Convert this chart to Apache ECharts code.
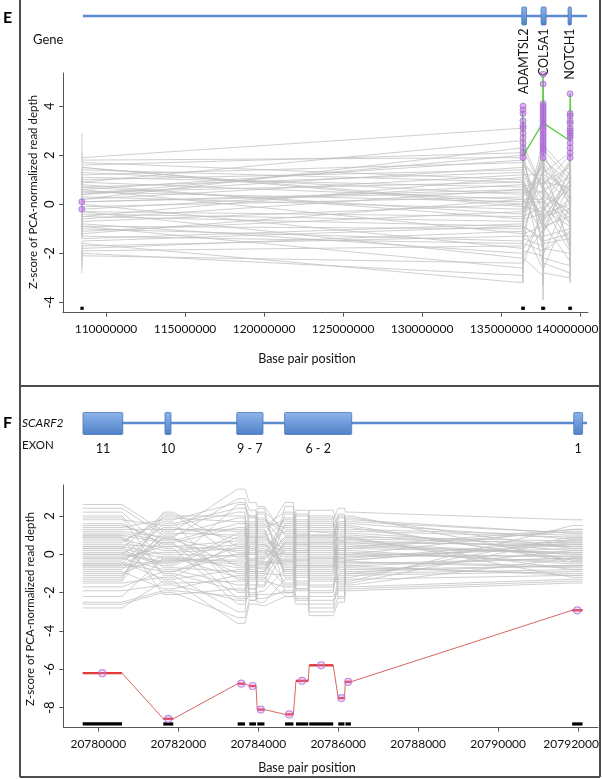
<!DOCTYPE html>
<html><head><meta charset="utf-8">
<script src="https://cdn.jsdelivr.net/npm/echarts@6/dist/echarts.min.js"></script>
<style>html,body{margin:0;padding:0;background:#fff}#c{width:602px;height:779px}</style>
</head><body><div id="c"></div>
<script>
// ---------------- Panel E data ----------------
const eProbePos = [108470000, 108500000, 136360000, 136390000, 136420000, 137620000, 137660000, 137700000, 139340000, 139370000, 139400000];
const eXTicks = [110000000, 115000000, 120000000, 125000000, 130000000, 135000000, 140000000];
const eYTicks = [-4, -2, 0, 2, 4];
const eGeneNames = ['ADAMTSL2', 'COL5A1', 'NOTCH1'];
const eGeneStart = [136310000, 137530000, 139240000];
const eGeneEnd = [136610000, 137850000, 139450000];
const eTrackRange = [108540000, 140440000];
// z-scores per sample at each probe (L1,L2,A1,A2,A3,C1,C2,C3,N1,N2,N3)
const eSamples = [
  [0.2, 0.1, 0.5, -0.3, 0.8, -0.5, 1.2, 0.3, -0.2, 0.6, 0.1],
  [1.8, 1.6, 2.1, 1.2, 0.4, 1.5, -0.8, 0.9, 0.7, -0.4, 1.1],
  [-1.9, -2.1, -2.4, -1.1, -1.8, -0.6, -2.7, -1.5, -1.2, -2.1, -0.9],
  [0.9, 0.8, -0.6, 0.9, 1.3, 0.2, 0.7, -1.1, 1.4, 0.3, -0.5],
  [-0.7, -0.5, 1.1, -1.8, -0.4, 1.9, -0.2, 1.6, -1.8, 1.2, 0.6],
  [2.9, 1.9, 3.1, 2.4, 1.7, 0.8, 2.6, 2.2, 1.0, 2.7, 1.8],
  [-2.8, -1.6, -3.2, -2.6, -2.2, -2.9, -3.9, -2.4, -2.8, -3.2, -2.3],
  [0.4, 0.5, 0.1, 1.6, -0.9, -1.4, 0.3, -0.6, 0.2, -1.1, 0.9],
  [-1.2, -1.0, -1.5, 0.4, -0.2, 0.6, -1.6, 0.1, -0.7, 0.5, -1.4],
  [1.3, 1.2, 1.7, -0.5, 2.0, -1.8, 1.9, -0.3, 1.7, -0.9, 0.4],
  [-0.3, -0.2, 0.8, -2.2, 0.3, 1.1, -1.0, 0.7, -1.5, 1.8, -0.2],
  [0.7, 0.6, -1.2, 0.2, -1.5, 2.3, 0.9, 1.8, 0.9, -2.2, 1.5],
  [-1.6, -1.5, -0.9, -1.4, 0.9, -2.4, -0.4, -2.0, 0.4, -1.6, -1.8],
  [1.0, 0.9, 2.6, 3.4, 1.1, 0.4, 3.8, 1.3, 2.1, 3.1, 0.7],
  [-0.9, -0.8, -2.0, -0.2, -2.1, -1.1, -2.2, -0.8, -2.3, 0.0, -1.2],
  [0.0, -0.1, 0.3, 0.7, 0.6, 0.0, 0.1, 0.5, -0.4, 0.8, 0.2],
  [1.5, 1.4, 0.9, -1.0, 1.6, -0.3, 1.5, 2.4, 1.2, -0.6, 1.3],
  [-2.3, -2.0, -2.9, -3.2, -1.0, -2.6, -3.3, -2.8, -3.0, -2.6, -1.9],
  [0.5, 0.3, -0.2, 1.0, 0.0, 1.6, -0.6, -0.1, 0.6, 1.5, -0.8],
  [-0.5, -0.4, -0.7, -0.8, -1.2, -0.9, 0.5, -1.3, -1.0, -0.3, 0.5],
  [1.1, 1.0, 1.4, 2.2, -0.3, 2.0, 2.9, 0.0, 1.8, 2.3, -0.1],
  [-1.4, -1.2, 0.2, -2.0, -2.4, -0.2, -1.3, -2.6, -0.1, -1.8, -2.0],
  [0.3, 0.2, 2.3, 0.5, 1.9, -1.6, 1.1, 1.0, -0.8, 0.9, 1.6],
  [-0.1, 0.0, -1.8, -0.6, 0.4, 0.9, -1.9, -0.4, 0.0, -0.8, -0.4],
  [2.1, 1.7, 1.0, 1.8, -0.6, 1.3, 0.0, 1.9, 0.5, 1.9, 1.0],
  [-2.6, -1.8, -1.1, -2.8, -1.6, -1.9, -2.5, -1.8, -2.0, -2.9, -1.5],
  [0.8, 0.7, -0.4, 0.0, 1.0, -0.7, 0.4, 0.9, 1.5, 0.1, 0.3],
  [-0.4, -0.6, 0.6, -1.2, -0.8, 0.3, -0.9, -0.9, -0.5, -1.3, -0.7],
  [1.6, 1.5, -0.1, 1.3, 2.4, 0.7, 2.2, 1.5, 0.3, 1.0, 1.9],
  [-1.0, -0.9, -2.6, -1.6, -0.6, -0.4, -1.5, 0.2, -1.6, -0.7, 0.0],
  [0.1, 0.4, 1.5, 0.1, -1.1, 1.4, -0.1, -0.5, 0.8, 0.4, -1.0],
  [-0.6, -0.7, 0.0, -0.5, 0.2, -1.2, 0.8, -1.0, -0.3, -0.1, 0.8],
  [0.6, 0.5, 0.9, -0.1, 0.5, 0.5, -0.5, 1.1, 0.1, 0.2, -0.3],
  [-0.8, -1.1, -0.3, 0.6, -1.4, -1.7, 1.0, -0.2, -0.9, 1.1, 0.7],
  [1.2, 1.3, 0.4, 1.9, 0.7, 1.0, -1.2, 0.6, 1.1, -0.2, 0.9],
  [-1.8, -1.7, -1.3, -0.7, 0.1, 0.1, -2.0, -1.1, 0.7, -1.4, -1.1],
  [0.2, -0.3, -0.5, -1.5, 1.4, -1.0, 1.6, 0.4, -0.6, 0.7, 1.2],
  [1.9, 1.8, 1.9, 0.8, -0.2, 1.7, 0.2, -0.7, 1.3, 1.4, -0.6],
  [-0.2, 0.2, 1.2, 0.3, -0.5, -0.1, 0.6, 2.0, 0.0, -0.5, 0.3],
  [-1.1, -1.3, -1.6, -2.4, -1.9, -2.1, -1.1, -1.6, -1.4, -2.4, -1.6],
  [0.9, 1.1, 0.7, 0.6, 2.2, 0.6, 1.4, 0.8, 2.0, 0.6, 1.4],
  [-0.4, -0.9, -1.0, 1.2, 0.7, -0.8, -0.3, -1.9, -1.1, 0.9, -0.5],
  [0.0, 0.6, 1.8, -0.9, 1.2, 1.2, 2.0, 1.2, 0.6, -1.0, 0.6],
  [-1.3, -0.3, -2.2, -1.3, -1.3, -1.3, -2.9, -0.1, -1.9, -1.5, -1.3],
  [0.4, 0.9, 0.2, 2.0, -0.7, 2.5, 0.0, 0.5, 1.6, 1.7, 0.0],
  [-0.6, -1.4, -0.8, -0.4, 0.9, -0.6, 0.9, -0.5, -0.2, -0.9, 1.1],
  [1.4, 0.7, 1.3, 0.4, 0.2, 0.2, -0.4, 1.4, 0.4, 0.0, -0.4],
  [-2.0, -1.9, -1.7, -1.9, -0.9, -1.5, -1.7, -2.2, -2.5, -1.9, -2.4],
  [0.7, 1.5, 0.0, -0.7, 1.6, 0.8, 1.8, -0.2, 0.9, 2.1, 0.2],
  [-0.9, 0.1, 0.6, 0.8, -0.1, -0.3, -0.7, 0.6, -0.4, 0.3, -0.9],
  [0.3, -0.5, -0.9, -0.3, -0.4, 1.8, 0.4, -0.9, 1.0, -0.3, 0.4],
  [1.0, 0.4, 2.0, 1.5, 0.9, -0.9, 2.4, 1.7, 0.2, 1.3, 1.7]
];
const eGreen = [null, null, 3.8, 3.0, 2.0, 3.3, 5.3, 3.3, 2.6, 4.5, 3.6];
const ePurpleL = [0.1, -0.2];
const ePurpleA = [4.0, 3.85, 3.7, 3.4, 3.2, 3.1, 2.9, 2.7, 2.5, 2.3, 2.1, 1.9];
const ePurpleC = [5.3, 4.9, 4.1, 4.0, 3.9, 3.8, 3.7, 3.6, 3.5, 3.4, 3.3, 3.2, 3.1, 3.0, 2.9, 2.8, 2.7, 2.6, 2.5, 2.4, 2.3, 2.2, 2.1, 1.9];
const ePurpleN = [4.5, 3.7, 3.6, 3.4, 3.3, 3.1, 3.0, 2.9, 2.8, 2.7, 2.5, 2.3, 2.1, 1.9];
const eDotY = -4.24;

// ---------------- Panel F data ----------------
const fXTicks = [20780000, 20782000, 20784000, 20786000, 20788000, 20790000, 20792000];
const fYTicks = [-8, -6, -4, -2, 0, 2];
const fExonLabels = ['11', '10', '9 - 7', '6 - 2', '1'];
const fExonStart = [20779617, 20781667, 20783460, 20784657, 20791885];
const fExonEnd = [20780612, 20781817, 20784117, 20786335, 20792107];
const fTrackRange = [20779617, 20792218];
const fProbeStart = [20779610, 20781625, 20783485, 20783775, 20783975, 20784668, 20784943, 20785275, 20786000, 20786180, 20791850];
const fProbeEnd = [20780593, 20781875, 20783668, 20783943, 20784155, 20784880, 20785250, 20785875, 20786155, 20786318, 20792110];
const fRed = [-6.2, -8.58, -6.75, -6.87, -8.1, -8.35, -6.6, -5.79, -7.5, -6.65, -2.92];
const fSamples = [
  [0.2, -0.5, 1.1, 0.8, 0.3, -0.4, 0.6, 0.1, -0.2, 0.4, 0.1],
  [2.6, 1.2, 3.4, 2.7, 2.5, 1.0, 2.3, 1.8, 2.4, 2.2, 1.8],
  [-2.8, -1.4, -3.6, -2.6, -2.7, -2.2, -2.6, -3.2, -2.5, -1.9, -1.5],
  [1.5, 0.8, -0.6, 0.2, 1.0, 2.7, 0.9, 2.3, 1.2, -0.3, 0.6],
  [-1.2, 2.2, 0.4, -0.9, -1.3, 0.5, -1.1, -0.8, 0.3, 1.5, -0.4],
  [0.9, -2.1, -1.8, -1.2, -0.5, -1.6, 1.4, -0.2, -1.4, -1.2, 0.9],
  [-0.5, 1.6, 2.4, 1.9, 1.4, 1.8, -0.3, 0.9, 1.7, 0.8, -0.8],
  [2.2, 0.3, -2.6, -2.0, -1.9, -0.8, 0.2, -1.6, -0.6, 0.0, 1.3],
  [-1.7, -0.9, 0.0, 0.5, -0.2, 0.9, -1.9, 1.2, 0.8, -1.6, -0.2],
  [0.6, 1.9, 1.7, -0.3, 2.1, -1.2, 1.1, -2.4, -1.9, 1.1, 0.4],
  [-0.9, -1.8, -1.1, 1.2, -0.9, 2.1, -0.7, 0.5, 2.0, -0.6, -1.1],
  [1.2, 0.9, 2.9, 2.3, 0.7, 0.1, 1.8, -1.0, 0.1, 1.7, 1.1],
  [-2.2, -0.2, -0.4, -1.6, -2.3, -1.9, -2.2, -2.8, -1.1, -0.9, -0.6],
  [0.0, 1.4, 0.8, 0.0, 1.7, 1.4, 0.5, 1.5, 1.0, 0.5, 0.0],
  [1.9, -1.1, -3.0, -0.6, 0.1, -0.3, -1.4, 0.8, -0.3, -1.4, 1.5],
  [-0.3, 0.6, 1.4, -2.2, -0.7, 0.2, 2.0, -0.5, 1.5, 2.0, -0.3],
  [0.4, -1.5, -1.4, 1.5, 2.4, -2.0, -0.1, 2.0, -2.3, -0.2, 0.7],
  [-1.3, 2.0, 2.0, 0.9, -1.6, 2.5, 0.7, -1.9, 0.6, 0.9, -1.2],
  [1.0, -0.7, -0.9, -0.4, 0.6, -0.6, -2.4, 0.3, -0.8, -1.0, 0.2],
  [-0.1, 0.1, 0.3, 1.1, -0.3, 0.8, 1.3, -0.9, 0.4, 0.2, -0.5],
  [2.4, 1.0, 1.9, -1.3, 1.2, -1.0, -0.9, 1.0, 1.9, 1.3, 1.0],
  [-2.5, -1.9, -2.2, -1.8, -2.5, -1.3, -1.8, -2.2, -1.7, -1.7, -1.3],
  [0.7, 1.7, -2.0, 0.6, -1.1, 1.6, 0.3, -1.3, -1.3, 0.6, 0.5],
  [-0.7, -0.4, 2.6, 2.0, 0.9, -0.1, 1.6, 0.6, 0.9, -0.4, -0.7],
  [1.6, 0.5, -1.0, -1.0, 1.9, 0.4, -0.5, -2.0, -0.1, 1.6, 0.8],
  [-1.5, -1.2, 0.6, 0.3, -1.2, -2.2, -1.2, 1.7, 1.3, -1.1, -0.9],
  [0.3, 2.1, -0.2, 1.7, 0.4, 1.2, 0.0, -0.6, -0.9, 1.9, 0.3],
  [-0.2, -0.8, -1.6, -0.2, -0.4, -0.5, 0.8, 0.0, 0.2, -0.1, -0.1],
  [1.3, 1.3, 1.2, -2.4, 0.0, 1.9, -1.6, -1.2, -1.6, 0.3, 1.2],
  [-1.0, -0.1, -0.7, 0.4, 1.3, -0.9, 0.4, 1.3, 0.7, -0.7, -1.0],
  [0.5, 0.4, 0.2, -0.7, -0.8, 0.6, -0.3, -0.3, -0.4, 0.7, 0.4],
  [-0.6, -0.3, -0.3, 0.1, 0.2, 0.0, 1.0, 0.4, 0.0, -0.5, -0.2],
  [0.8, 0.2, 0.5, 1.3, 0.8, 0.3, -0.6, 0.7, 0.5, -0.3, 0.5],
  [-0.4, -1.3, -0.8, -0.5, -1.0, -1.1, 0.1, -1.1, -0.5, 0.1, -0.4],
  [1.1, 0.7, 1.6, 0.6, 1.5, 2.2, 1.2, 1.1, 1.4, 1.2, 0.9],
  [-1.1, 0.9, -1.3, -1.4, 0.5, -0.2, -0.8, -1.4, -1.2, -0.8, -0.6],
  [0.1, -0.6, 0.9, 1.6, -0.6, 0.6, 1.7, 0.2, 0.3, 1.0, 0.2],
  [1.8, 1.5, 2.2, -0.8, 1.8, 1.1, -0.4, 1.4, 2.1, 0.4, 1.3],
  [-1.9, -1.6, -2.4, -2.1, -1.4, -1.7, -1.5, -2.6, -1.8, -1.3, -1.1],
  [0.4, 0.0, -0.1, 0.3, -0.1, 1.5, 0.6, 0.6, -0.7, 0.6, 0.0],
  [-0.8, 1.1, 1.0, 2.0, 1.1, -0.7, 1.5, -0.4, 0.9, 1.4, -0.3],
  [2.0, -0.3, -0.5, -0.9, -1.7, 0.3, -1.0, -1.7, -1.0, -1.5, 0.8],
  [-0.2, 0.4, 0.7, 0.7, 0.2, -1.5, 0.9, 0.9, 1.1, -0.1, 0.3],
  [0.9, -1.0, -1.9, -1.1, 0.9, 1.7, -1.8, -0.1, 0.0, 0.8, 0.6],
  [-1.4, 1.3, 1.3, 1.0, -0.4, -0.3, 0.2, 1.9, -0.4, -1.0, -0.8],
  [0.3, -0.2, -1.2, -0.3, 1.6, 0.0, -0.2, -0.7, 1.6, 0.3, 0.1],
  [-0.6, 0.8, 0.1, -1.8, -0.9, 0.7, 2.1, 0.4, -1.5, -0.4, -0.6],
  [1.4, 1.8, 2.7, 1.4, 2.2, 1.3, 1.0, 1.6, 0.7, 1.8, 1.1],
  [-2.6, -2.0, -3.3, -2.4, -2.1, -2.0, -2.3, -3.0, -2.2, -1.8, -1.4],
  [0.0, -0.4, 0.0, 0.0, 0.5, -0.8, 0.1, -0.2, 0.2, 0.0, -0.1],
  [1.0, 0.6, -2.3, -0.6, -0.2, 0.9, -0.6, 1.0, -0.2, 0.9, 0.7],
  [-0.5, -0.9, 0.4, 0.9, -0.5, -0.4, 0.5, -0.6, 0.6, -0.6, -0.2]
];
const fBarY = -8.85;

// ---------------- Chart ----------------
const FONT = 'Lato';
const GRAY = 'rgba(192,192,192,0.85)';
const AXC = '#555';
const chart = echarts.init(document.getElementById('c'), null, {renderer: 'canvas'});

function boxFill() {
  return new echarts.graphic.LinearGradient(0, 0, 0, 1, [
    {offset: 0, color: '#8db5ea'}, {offset: 1, color: '#4f80c8'}
  ]);
}
function mainX(gi, min, max, ticks, lastShift) {
  const last = ticks[ticks.length - 1];
  return {
    type: 'value', gridIndex: gi, min: min, max: max,
    axisLine: {show: true, onZero: false, lineStyle: {color: AXC, width: 1}},
    axisTick: {show: true, customValues: ticks, length: 4, lineStyle: {color: AXC}},
    axisLabel: {
      customValues: ticks, fontFamily: FONT, fontSize: 12, color: '#111', margin: 10,
      formatter: v => (v === last ? '{s|' + v + '}' : String(v)),
      rich: {s: {fontFamily: FONT, fontSize: 12, color: '#111', padding: [0, lastShift, 0, 0]}}
    },
    splitLine: {show: false}
  };
}
function mainY(gi, min, max, ticks) {
  return {
    type: 'value', gridIndex: gi, min: min, max: max,
    axisLine: {show: true, onZero: false, lineStyle: {color: AXC, width: 1}},
    axisTick: {show: true, customValues: ticks, length: 4, lineStyle: {color: AXC}},
    axisLabel: {show: false},
    splitLine: {show: false}
  };
}
function hiddenX(gi, min, max) { return {type: 'value', gridIndex: gi, min: min, max: max, show: false}; }
function hiddenY(gi) { return {type: 'value', gridIndex: gi, min: 0, max: 1, show: false}; }

const eXMin = 107280000, eXMax = 140500000;
const fXMin = 20779125, fXMax = 20792492;

const series = [];
// rotated y tick labels (R style), placed through the axis scale
function yLabelSeries(xi, yi, xMin, ticks) {
  return {
    type: 'custom', xAxisIndex: xi, yAxisIndex: yi, silent: true, z: 6,
    data: ticks.map(v => [xMin, v]),
    renderItem: function (params, api) {
      const p = api.coord([api.value(0), api.value(1)]);
      return {type: 'text', x: p[0] - 13, y: p[1], rotation: Math.PI / 2,
        style: {text: String(api.value(1)), align: 'center', verticalAlign: 'middle',
                fontFamily: FONT, fontSize: 13, fill: '#111'}};
    }
  };
}
series.push(yLabelSeries(0, 0, eXMin, eYTicks));
series.push(yLabelSeries(2, 2, fXMin, fYTicks));

// E gray sample lines
eSamples.forEach(row => series.push({
  type: 'line', xAxisIndex: 0, yAxisIndex: 0, silent: true, symbol: 'none', z: 1,
  data: row.map((v, i) => [eProbePos[i], v]),
  lineStyle: {color: GRAY, width: 0.9}
}));
// E green line
series.push({
  type: 'line', xAxisIndex: 0, yAxisIndex: 0, symbol: 'none', z: 3,
  data: eGreen.map((v, i) => v == null ? null : [eProbePos[i], v]).filter(d => d),
  lineStyle: {color: '#5fcf4a', width: 1.4}
});
// E purple circles
series.push({
  type: 'scatter', xAxisIndex: 0, yAxisIndex: 0, symbol: 'circle', symbolSize: 6, z: 4,
  data: [].concat(
    ePurpleL.map(v => [eProbePos[0], v]),
    ePurpleA.map(v => [eProbePos[3], v]),
    ePurpleC.map(v => [eProbePos[6], v]),
    ePurpleN.map(v => [eProbePos[9], v])),
  itemStyle: {color: 'rgba(200,80,240,0.55)', borderColor: '#9a78c8', borderWidth: 1}
});
// E black dots
series.push({
  type: 'scatter', xAxisIndex: 0, yAxisIndex: 0, symbol: 'rect', symbolSize: [3, 3], z: 4,
  data: eProbePos.map(x => [x, eDotY]), itemStyle: {color: '#000'}
});
// E gene track backbone
series.push({
  type: 'line', xAxisIndex: 1, yAxisIndex: 1, symbol: 'none', silent: true, z: 2,
  data: [[eTrackRange[0], 0.5], [eTrackRange[1], 0.5]],
  lineStyle: {color: '#5b8bd0', width: 2.5}
});
// E gene boxes + labels
series.push({
  type: 'custom', xAxisIndex: 1, yAxisIndex: 1, z: 3,
  data: eGeneStart.map((s, i) => [s, eGeneEnd[i]]),
  renderItem: function (params, api) {
    const a = api.coord([api.value(0), 1]);
    const b = api.coord([api.value(1), 0]);
    const cx = (a[0] + b[0]) / 2;
    return {type: 'group', children: [
      {type: 'rect', shape: {x: a[0], y: a[1], width: b[0] - a[0], height: b[1] - a[1], r: 1},
       style: {fill: boxFill(), stroke: '#4a78bd', lineWidth: 0.8}},
      {type: 'text', x: cx, y: b[1] + 3.5, rotation: Math.PI / 2,
       style: {text: eGeneNames[params.dataIndex], align: 'right', verticalAlign: 'middle',
               fontFamily: FONT, fontSize: 12.5, fill: '#111'}}
    ]};
  }
});

// F gray sample lines
function stepData(vals) {
  const out = [];
  vals.forEach((v, i) => { out.push([fProbeStart[i], v]); out.push([fProbeEnd[i], v]); });
  return out;
}
fSamples.forEach(row => series.push({
  type: 'line', xAxisIndex: 2, yAxisIndex: 2, silent: true, symbol: 'none', z: 1,
  data: stepData(row), lineStyle: {color: GRAY, width: 0.9}
}));
// F red line
series.push({
  type: 'line', xAxisIndex: 2, yAxisIndex: 2, symbol: 'none', z: 3,
  data: stepData(fRed), lineStyle: {color: '#d96464', width: 1}
});
series.push({
  type: 'custom', xAxisIndex: 2, yAxisIndex: 2, z: 4,
  data: fProbeStart.map((s, i) => [s, fProbeEnd[i], fRed[i]]),
  renderItem: function (params, api) {
    const a = api.coord([api.value(0), api.value(2)]);
    const b = api.coord([api.value(1), api.value(2)]);
    return {type: 'line', shape: {x1: a[0], y1: a[1], x2: b[0], y2: b[1]},
            style: {stroke: '#e03a3a', lineWidth: 2.4}};
  }
});
series.push({
  type: 'scatter', xAxisIndex: 2, yAxisIndex: 2, symbol: 'circle', symbolSize: 7, z: 5,
  data: fProbeStart.map((s, i) => [(s + fProbeEnd[i]) / 2, fRed[i]]),
  itemStyle: {color: 'rgba(220,150,240,0.35)', borderColor: '#b870dc', borderWidth: 1.2}
});
// F black bars
series.push({
  type: 'custom', xAxisIndex: 2, yAxisIndex: 2, z: 4,
  data: fProbeStart.map((s, i) => [s, fProbeEnd[i]]),
  renderItem: function (params, api) {
    const a = api.coord([api.value(0), fBarY]);
    const b = api.coord([api.value(1), fBarY]);
    return {type: 'rect', shape: {x: a[0], y: a[1] - 1.6, width: b[0] - a[0], height: 3.2},
            style: {fill: '#000'}};
  }
});
// F gene track backbone
series.push({
  type: 'line', xAxisIndex: 3, yAxisIndex: 3, symbol: 'none', silent: true, z: 2,
  data: [[fTrackRange[0], 0.48], [fTrackRange[1], 0.48]],
  lineStyle: {color: '#5b8bd0', width: 2.5}
});
// F exon boxes + labels
series.push({
  type: 'custom', xAxisIndex: 3, yAxisIndex: 3, z: 3,
  data: fExonStart.map((s, i) => [s, fExonEnd[i]]),
  renderItem: function (params, api) {
    const a = api.coord([api.value(0), 0.9]);
    const b = api.coord([api.value(1), 0.02]);
    const cx = (a[0] + b[0]) / 2;
    return {type: 'group', children: [
      {type: 'rect', shape: {x: a[0], y: a[1], width: b[0] - a[0], height: b[1] - a[1], r: 1},
       style: {fill: boxFill(), stroke: '#4a78bd', lineWidth: 0.8}},
      {type: 'text', x: cx, y: b[1] + 14.5,
       style: {text: fExonLabels[params.dataIndex], align: 'center', verticalAlign: 'middle',
               fontFamily: FONT, fontSize: 12.5, fill: '#111'}}
    ]};
  }
});

function txt(x, y, text, size, extra) {
  return Object.assign({type: 'text', x: x, y: y,
    style: Object.assign({text: text, fontFamily: FONT, fontSize: size, fill: '#111',
      align: 'left', verticalAlign: 'middle'}, (extra && extra.style) || {})},
    extra && extra.rotation ? {rotation: extra.rotation} : {});
}
const frameStyle = {stroke: '#4d4d4d', lineWidth: 2};
const graphic = [
  {type: 'line', shape: {x1: 20, y1: 0, x2: 20, y2: 777}, style: frameStyle},
  {type: 'line', shape: {x1: 600, y1: 0, x2: 600, y2: 777}, style: frameStyle},
  {type: 'line', shape: {x1: 20, y1: 386, x2: 600, y2: 386}, style: frameStyle},
  {type: 'line', shape: {x1: 20, y1: 777, x2: 600, y2: 777}, style: frameStyle},
  txt(3, 18, 'E', 16, {style: {fontWeight: 'bold', fill: '#000'}}),
  txt(3, 423, 'F', 16, {style: {fontWeight: 'bold', fill: '#000'}}),
  txt(33, 40, 'Gene', 13),
  txt(22, 423, 'SCARF2', 12, {style: {fontStyle: 'italic'}}),
  txt(22, 445, 'EXON', 11.5),
  txt(307, 358.5, 'Base pair position', 12.5, {style: {align: 'center'}}),
  txt(307, 768, 'Base pair position', 12.5, {style: {align: 'center'}}),
  txt(33, 192, 'Z-score of PCA-normalized read depth', 11.5, {rotation: Math.PI / 2, style: {align: 'center'}}),
  txt(30, 609, 'Z-score of PCA-normalized read depth', 11.5, {rotation: Math.PI / 2, style: {align: 'center'}})
];

chart.setOption({
  animation: false,
  backgroundColor: '#fff',
  grid: [
    {left: 63, top: 73, width: 525, height: 239.7},
    {left: 63, top: 7, width: 525, height: 18},
    {left: 63.3, top: 485, width: 534.7, height: 242.7},
    {left: 63.3, top: 410, width: 534.7, height: 25}
  ],
  xAxis: [
    mainX(0, eXMin, eXMax, eXTicks, 26),
    hiddenX(1, eXMin, eXMax),
    mainX(2, fXMin, fXMax, fXTicks, 14),
    hiddenX(3, fXMin, fXMax)
  ],
  yAxis: [
    mainY(0, -4.42, 5.35, eYTicks),
    hiddenY(1),
    mainY(2, -9.045, 3.615, fYTicks),
    hiddenY(3)
  ],
  series: series,
  graphic: graphic
});
</script>
</body></html>
